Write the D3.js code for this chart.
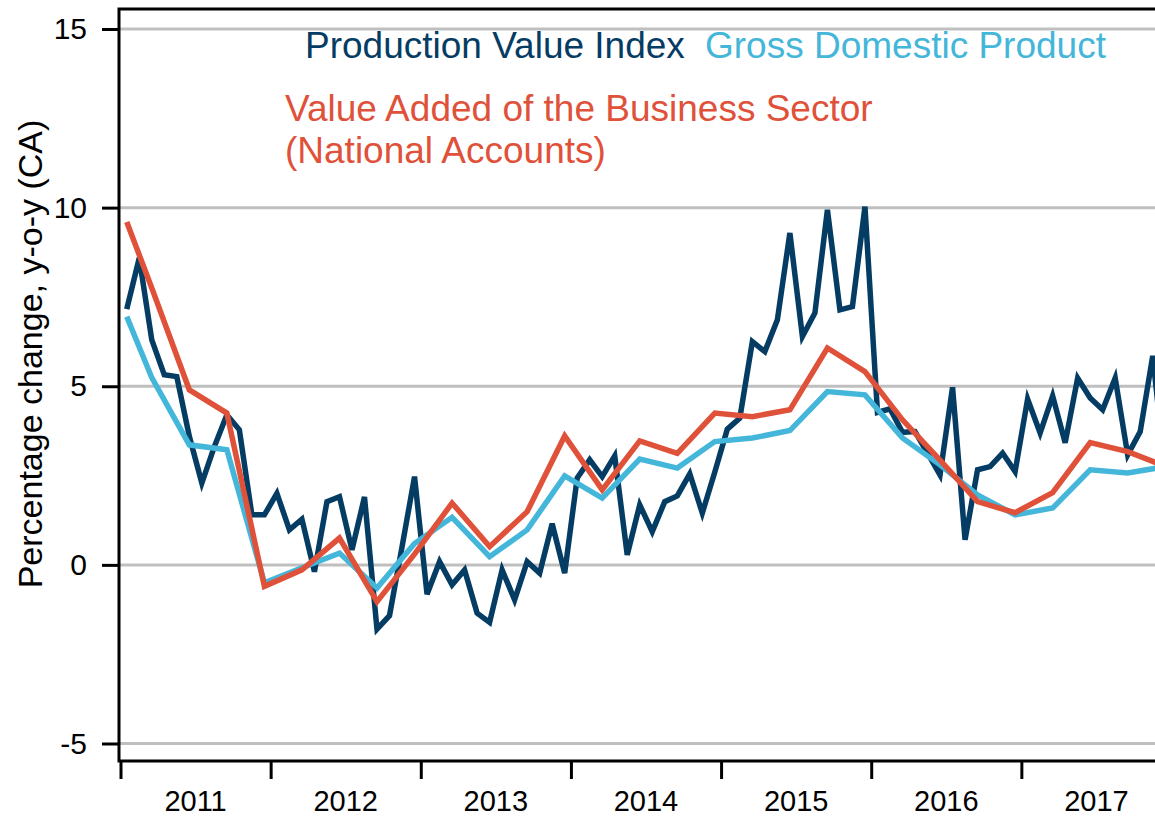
<!DOCTYPE html>
<html>
<head>
<meta charset="utf-8">
<script src="https://d3js.org/d3.v7.min.js"></script>
<style>
  body { margin: 0; background: #fff; }
  svg text { font-family: "Liberation Sans", Arial, sans-serif; }
</style>
</head>
<body>
<div id="chart"></div>
<script>
//////////////////////////////////////////////////////////////////////////////
// Data

var years = ["2011", "2012", "2013", "2014", "2015", "2016", "2017"];
var yTicks = [-5, 0, 5, 10, 15];

// monthly series, Jan 2011 .. Dec 2017
var productionValue = [
    7.16, 8.59, 6.30, 5.32, 5.27, 3.60, 2.29, 3.31, 4.20, 3.78, 1.40, 1.40,
    2.00, 0.98, 1.28, -0.19, 1.77, 1.91, 0.42, 1.90, -1.80, -1.42, 0.50, 2.47,
    -0.82, 0.09, -0.56, -0.14, -1.35, -1.61, -0.14, -0.98, 0.09, -0.23, 1.15, -0.23,
    2.43, 2.94, 2.47, 3.05, 0.28, 1.68, 0.93, 1.77, 1.93, 2.55, 1.45, 2.60,
    3.80, 4.11, 6.25, 5.97, 6.86, 9.29, 6.39, 7.05, 9.94, 7.14, 7.23, 10.03,
    4.27, 4.37, 3.71, 3.73, 3.13, 2.52, 4.97, 0.70, 2.66, 2.75, 3.13, 2.61,
    4.64, 3.69, 4.73, 3.42, 5.23, 4.67, 4.34, 5.23, 3.08, 3.73, 5.85, 2.55
];

// quarterly series: first point Jan 2011, then the last month of each quarter
var quarterMonths = [0, 2, 5, 8, 11, 14, 17, 20, 23, 26, 29, 32, 35, 38, 41,
    44, 47, 50, 53, 56, 59, 62, 65, 68, 71, 74, 77, 80, 83];

var gdp = [
    6.95, 5.24, 3.36, 3.22, -0.50, -0.08, 0.33, -0.65, 0.60, 1.33, 0.23, 0.98,
    2.49, 1.87, 2.96, 2.71, 3.45, 3.55, 3.76, 4.85, 4.76, 3.55, 2.80, 1.96,
    1.40, 1.59, 2.66, 2.57, 2.75
];

var valueAdded = [
    9.60, 7.75, 4.90, 4.25, -0.60, -0.14, 0.75, -1.03, 0.30, 1.73, 0.51, 1.49,
    3.61, 2.10, 3.47, 3.12, 4.25, 4.15, 4.34, 6.07, 5.41, 4.06, 2.93, 1.77,
    1.46, 2.02, 3.42, 3.17, 2.76
];

//////////////////////////////////////////////////////////////////////////////
// Layout

var width = 1155, height = 818;
var plotLeft = 119, plotTop = 9, plotBottom = 761, plotRight = 1155;

var darkBlue = "#053c64";
var lightBlue = "#44b6da";
var red = "#e0513a";

var xScale = d3.scaleLinear().domain([0, 84]).range([120.5, 1171.5]);
var yScale = d3.scaleLinear().domain([-5, 15]).range([743.5, 29]);

var svg = d3.select("#chart")
    .append("svg")
    .attr("width", width)
    .attr("height", height);

svg.append("defs")
    .append("clipPath")
    .attr("id", "plot-clip")
    .append("rect")
    .attr("x", plotLeft)
    .attr("y", plotTop)
    .attr("width", plotRight - plotLeft)
    .attr("height", plotBottom - plotTop);

// gridlines
svg.append("g")
    .selectAll("line")
    .data(yTicks)
    .enter()
    .append("line")
    .attr("x1", plotLeft)
    .attr("x2", plotRight)
    .attr("y1", function(d) { return yScale(d); })
    .attr("y2", function(d) { return yScale(d); })
    .attr("stroke", "#bfbfbf")
    .attr("stroke-width", 3);

//////////////////////////////////////////////////////////////////////////////
// Lines

var lineMonthly = d3.line()
    .x(function(d, i) { return xScale(i + 0.5); })
    .y(function(d) { return yScale(d); });

var lineQuarterly = d3.line()
    .x(function(d, i) { return xScale(quarterMonths[i] + 0.5); })
    .y(function(d) { return yScale(d); });

var lines = svg.append("g").attr("clip-path", "url(#plot-clip)");

lines.append("path")
    .datum(productionValue)
    .attr("d", lineMonthly)
    .attr("fill", "none")
    .attr("stroke", darkBlue)
    .attr("stroke-width", 5.5);

lines.append("path")
    .datum(gdp)
    .attr("d", lineQuarterly)
    .attr("fill", "none")
    .attr("stroke", lightBlue)
    .attr("stroke-width", 5.5);

lines.append("path")
    .datum(valueAdded)
    .attr("d", lineQuarterly)
    .attr("fill", "none")
    .attr("stroke", red)
    .attr("stroke-width", 5.5);

//////////////////////////////////////////////////////////////////////////////
// Axes and frame

var yAxis = d3.axisLeft(yScale)
    .tickValues(yTicks)
    .tickSize(17)
    .tickPadding(15)
    .tickFormat(function(d) { return String(d); });   // plain hyphen for -5

var yAxisG = svg.append("g")
    .attr("transform", "translate(" + plotLeft + ",0)")
    .call(yAxis);
yAxisG.select(".domain").remove();
yAxisG.selectAll("line").attr("stroke", "#000").attr("stroke-width", 3);
yAxisG.selectAll("text")
    .attr("font-size", 30)
    .attr("font-family", "Liberation Sans, Arial, sans-serif")
    .attr("fill", "#000");

// year boundary ticks below the axis
var xAxis = d3.axisBottom(xScale)
    .tickValues(d3.range(0, 84, 12))
    .tickSize(18)
    .tickFormat("");

var xAxisG = svg.append("g")
    .attr("transform", "translate(0," + plotBottom + ")")
    .call(xAxis);
xAxisG.select(".domain").remove();
xAxisG.selectAll("line").attr("stroke", "#000").attr("stroke-width", 3);

svg.append("g")
    .selectAll("text")
    .data(years)
    .enter()
    .append("text")
    .attr("x", function(d, i) { return xScale(i * 12 + 6); })
    .attr("y", 811)
    .attr("text-anchor", "middle")
    .attr("font-size", 29)
    .attr("fill", "#000")
    .text(function(d) { return d; });

// frame: left, top, bottom
svg.append("path")
    .attr("d", "M" + plotRight + "," + plotTop + "H" + plotLeft + "V" + plotBottom + "H" + plotRight)
    .attr("fill", "none")
    .attr("stroke", "#000")
    .attr("stroke-width", 3);

svg.append("text")
    .attr("transform", "translate(42,354) rotate(-90)")
    .attr("text-anchor", "middle")
    .attr("font-size", 34)
    .attr("fill", "#000")
    .text("Percentage change, y-o-y (CA)");

//////////////////////////////////////////////////////////////////////////////
// Legend labels

var legendLabels = [
    { text: "Production Value Index", color: darkBlue, x: 305, y: 58 },
    { text: "Gross Domestic Product", color: lightBlue, x: 705, y: 58 },
    { text: "Value Added of the Business Sector", color: red, x: 285, y: 121 },
    { text: "(National Accounts)", color: red, x: 285, y: 163 }
];

svg.append("g")
    .selectAll("text")
    .data(legendLabels)
    .enter()
    .append("text")
    .attr("x", function(d) { return d.x; })
    .attr("y", function(d) { return d.y; })
    .attr("font-size", 37)
    .attr("fill", function(d) { return d.color; })
    .text(function(d) { return d.text; });
</script>
</body>
</html>
